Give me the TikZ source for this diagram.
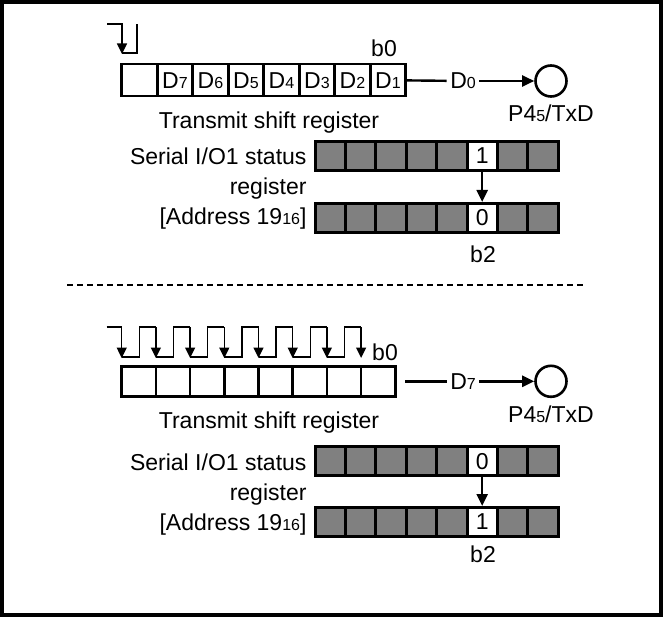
\documentclass[tikz,border=0pt]{standalone}
\usepackage{fontspec}
\setmainfont{Liberation Sans}
\usetikzlibrary{arrows.meta,positioning}
\newcommand{\sdig}[1]{{\fontsize{16}{16}\selectfont #1}}

\begin{document}
\begin{tikzpicture}[x=1pt, y=-1pt,
        txt/.style={font=\fontsize{23}{30}\selectfont},
        regcell/.style={draw, line width=2.6pt, minimum width=35.5pt, minimum height=32pt, inner sep=0pt, txt},
        regcellb/.style={regcell, minimum width=34.2pt, minimum height=30pt},
        statcell/.style={draw, fill=gray, line width=3pt, minimum width=30.4pt, minimum height=29pt, inner sep=0pt, txt},
        bitcell/.style={statcell, fill=white},
        pin/.style={draw, circle, line width=2.6pt, minimum size=31pt, inner sep=0pt},
        clk/.style={line width=1.4pt},
        clkarr/.style={clk, -{Triangle[length=10.5pt, width=10pt]}},
        line/.style={line width=2.4pt},
        arr/.style={line width=2.4pt, -{Triangle[length=12pt, width=11pt]}}
    ]
        \useasboundingbox (0,0) rectangle (663,617);
        \draw[line width=4.5pt] (2.2,2.2) rectangle (660.8,614.8);

        % upper half: first shift clock
        \draw[clkarr] (107,24) -- (122,24) -- (122,54);
        \draw[clk] (122,53) -- (137,53) -- (137,24);
        \foreach \lab [count=\i from 0] in {{},D\sdig{7},D\sdig{6},D\sdig{5},D\sdig{4},D\sdig{3},D\sdig{2},D\sdig{1}}
            \node[regcell] (ta\i) at ({121.7+35.5*(\i+0.5)},80.2) {\lab};
        \node[txt, anchor=base] (tab0) at (384,57) {b0};
        \node[txt, anchor=base] (tatitle) at (269,129) {Transmit shift register};
        \node[txt] (tad) at (463,81) {D\sdig{0}};
        \node[pin] (tapin) at (551,81) {};
        \node[txt, below=4pt of tapin] (tapinlab) {P4\sdig{5}/TxD};
        \draw[line] (ta7) -- (tad);
        \draw[arr] (tad) -- (tapin);

        \foreach \i in {0,1,2,3,4,6,7} {
            \node[statcell] (sa\i) at ({315+30.4*(\i+0.5)},156) {};
            \node[statcell] (sb\i) at ({315+30.4*(\i+0.5)},218) {};
        }
        \node[bitcell] (sa5) at ({315+30.4*5.5},156) {1};
        \node[bitcell] (sb5) at ({315+30.4*5.5},218) {0};
        \draw[arr] (sa5) -- (sb5);
        \node[txt, anchor=base] (sab2) at (483,263) {b2};
        \node[txt, align=right, anchor=east] (salab) at (310,189) {Serial I/O1 status\\register\\{}[Address 19\sdig{16}]};

        \draw[line width=2.6pt, dash pattern=on 5.5pt off 4.5pt] (67,285) -- (585,285);

        % lower half: after eight shift clocks
        \draw[clk] (106.7,327) -- (121.7,327);
        \foreach \i in {0,...,7}
            \draw[clkarr] ({121.7+34.2*\i},327) -- ({121.7+34.2*\i},358);
        \foreach \i in {0,...,6}
            \draw[clk] ({121.7+34.2*\i},357) -- ({139.2+34.2*\i},357) -- ({139.2+34.2*\i},327) -- ({155.9+34.2*\i},327);
        \foreach \i in {0,...,7}
            \node[regcellb] (tb\i) at ({121.7+34.2*(\i+0.5)},381.3) {};
        \node[txt, anchor=base] (tbb0) at (385,360) {b0};
        \node[txt, anchor=base] (tbtitle) at (269,428) {Transmit shift register};
        \coordinate (tbout) at (405,381.3);
        \node[txt] (tbd) at (463,381.3) {D\sdig{7}};
        \node[pin] (tbpin) at (551,381.3) {};
        \node[txt, below=4pt of tbpin] (tbpinlab) {P4\sdig{5}/TxD};
        \draw[line] (tbout) -- (tbd);
        \draw[arr] (tbd) -- (tbpin);

        \foreach \i in {0,1,2,3,4,6,7} {
            \node[statcell] (sc\i) at ({315+30.4*(\i+0.5)},461.3) {};
            \node[statcell] (sd\i) at ({315+30.4*(\i+0.5)},522) {};
        }
        \node[bitcell] (sc5) at ({315+30.4*5.5},461.3) {0};
        \node[bitcell] (sd5) at ({315+30.4*5.5},522) {1};
        \draw[arr] (sc5) -- (sd5);
        \node[txt, anchor=base] (scb2) at (483,562) {b2};
        \node[txt, align=right, anchor=east] (sclab) at (310,495) {Serial I/O1 status\\register\\{}[Address 19\sdig{16}]};
    \end{tikzpicture}
\end{document}
